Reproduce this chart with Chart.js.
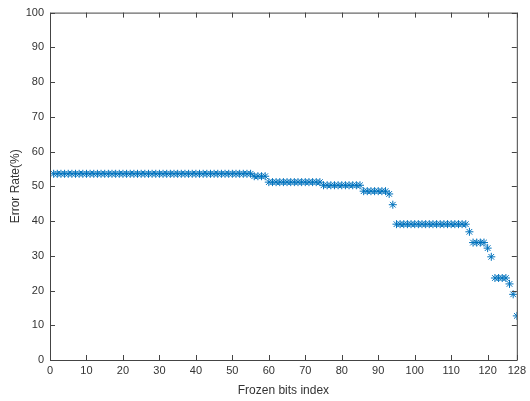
<!DOCTYPE html>
<html>
<head>
<meta charset="utf-8">
<script src="https://cdn.jsdelivr.net/npm/chart.js@4/dist/chart.umd.min.js"></script>
<style>
  html, body { margin: 0; padding: 0; background: #fff; }
  #wrap { width: 530px; height: 401px; }
</style>
</head>
<body>
<div id="wrap"><canvas id="c" width="530" height="401"></canvas></div>
<script>
// frozen bit index 1..128 and its error rate (%)
const bitIndex = [];
for (let i = 1; i <= 128; i++) bitIndex.push(i);

const errorRate = [
  // 1..55
  53.6,53.6,53.6,53.6,53.6,53.6,53.6,53.6,53.6,53.6,
  53.6,53.6,53.6,53.6,53.6,53.6,53.6,53.6,53.6,53.6,
  53.6,53.6,53.6,53.6,53.6,53.6,53.6,53.6,53.6,53.6,
  53.6,53.6,53.6,53.6,53.6,53.6,53.6,53.6,53.6,53.6,
  53.6,53.6,53.6,53.6,53.6,53.6,53.6,53.6,53.6,53.6,
  53.6,53.6,53.6,53.6,53.6,
  // 56..59
  52.9,52.9,52.9,52.9,
  // 60..74
  51.2,51.2,51.2,51.2,51.2,51.2,51.2,51.2,51.2,51.2,
  51.2,51.2,51.2,51.2,51.2,
  // 75..85
  50.3,50.3,50.3,50.3,50.3,50.3,50.3,50.3,50.3,50.3,50.3,
  // 86..92
  48.6,48.6,48.6,48.6,48.6,48.6,48.6,
  // 93, 94
  47.8,44.7,
  // 95..114
  39.1,39.1,39.1,39.1,39.1,39.1,39.1,39.1,39.1,39.1,
  39.1,39.1,39.1,39.1,39.1,39.1,39.1,39.1,39.1,39.1,
  // 115
  36.9,
  // 116..119
  33.8,33.8,33.8,33.8,
  // 120, 121
  32.2,29.7,
  // 122..125
  23.6,23.6,23.6,23.6,
  // 126..128
  21.9,18.9,12.7
];

const xTicks = [0,10,20,30,40,50,60,70,80,90,100,110,120,128];
const yTicks = [0,10,20,30,40,50,60,70,80,90,100];

const axisColor = '#444';
const textColor = '#333';

// MATLAB style box with inward ticks on all four sides
const boxTicks = {
  id: 'boxTicks',
  afterDraw(chart) {
    const ctx = chart.ctx;
    const a = chart.chartArea;
    const xs = chart.scales.x, ys = chart.scales.y;
    const len = 5;
    ctx.save();
    ctx.strokeStyle = axisColor;
    ctx.lineWidth = 1;
    ctx.beginPath();
    ctx.rect(a.left + 0.5, a.top + 0.5, a.right - a.left, a.bottom - a.top);
    xTicks.forEach(v => {
      const px = Math.round(xs.getPixelForValue(v)) + 0.5;
      ctx.moveTo(px, a.bottom); ctx.lineTo(px, a.bottom - len);
      ctx.moveTo(px, a.top); ctx.lineTo(px, a.top + len);
    });
    yTicks.forEach(v => {
      const py = Math.round(ys.getPixelForValue(v)) + 0.5;
      ctx.moveTo(a.left, py); ctx.lineTo(a.left + len, py);
      ctx.moveTo(a.right, py); ctx.lineTo(a.right - len, py);
    });
    ctx.stroke();
    ctx.restore();
  }
};

const font = { family: "'Liberation Sans', Arial, sans-serif", size: 11 };

new Chart(document.getElementById('c'), {
  type: 'scatter',
  data: {
    datasets: [{
      data: bitIndex.map((x, i) => ({ x: x, y: errorRate[i] })),
      pointStyle: 'star',
      pointRadius: 4,
      pointBorderWidth: 1,
      borderColor: '#0072BD',
      backgroundColor: '#0072BD'
    }]
  },
  options: {
    responsive: false,
    animation: false,
    layout: { padding: { top: 10, right: 12, left: 0, bottom: 0 } },
    plugins: { legend: { display: false }, tooltip: { enabled: false } },
    scales: {
      x: {
        type: 'linear',
        min: 0, max: 128,
        afterBuildTicks: s => { s.ticks = xTicks.map(v => ({ value: v })); },
        afterFit: s => { s.height = 41; },
        grid: { display: false, drawTicks: false },
        border: { display: false },
        ticks: { color: textColor, font: font, padding: 4, maxRotation: 0, autoSkip: false },
        title: {
          display: true, text: 'Frozen bits index', color: textColor,
          font: { family: font.family, size: 12 }, padding: { top: 0, bottom: 3 }
        }
      },
      y: {
        type: 'linear',
        min: 0, max: 100,
        afterBuildTicks: s => { s.ticks = yTicks.map(v => ({ value: v })); },
        afterFit: s => { s.width = 50; },
        grid: { display: false, drawTicks: false },
        border: { display: false },
        ticks: { color: textColor, font: font, padding: 6 },
        title: {
          display: true, text: 'Error Rate(%)', color: textColor,
          font: { family: font.family, size: 12 }, padding: { top: 8, bottom: 0 }
        }
      }
    }
  },
  plugins: [boxTicks]
});
</script>
</body>
</html>
